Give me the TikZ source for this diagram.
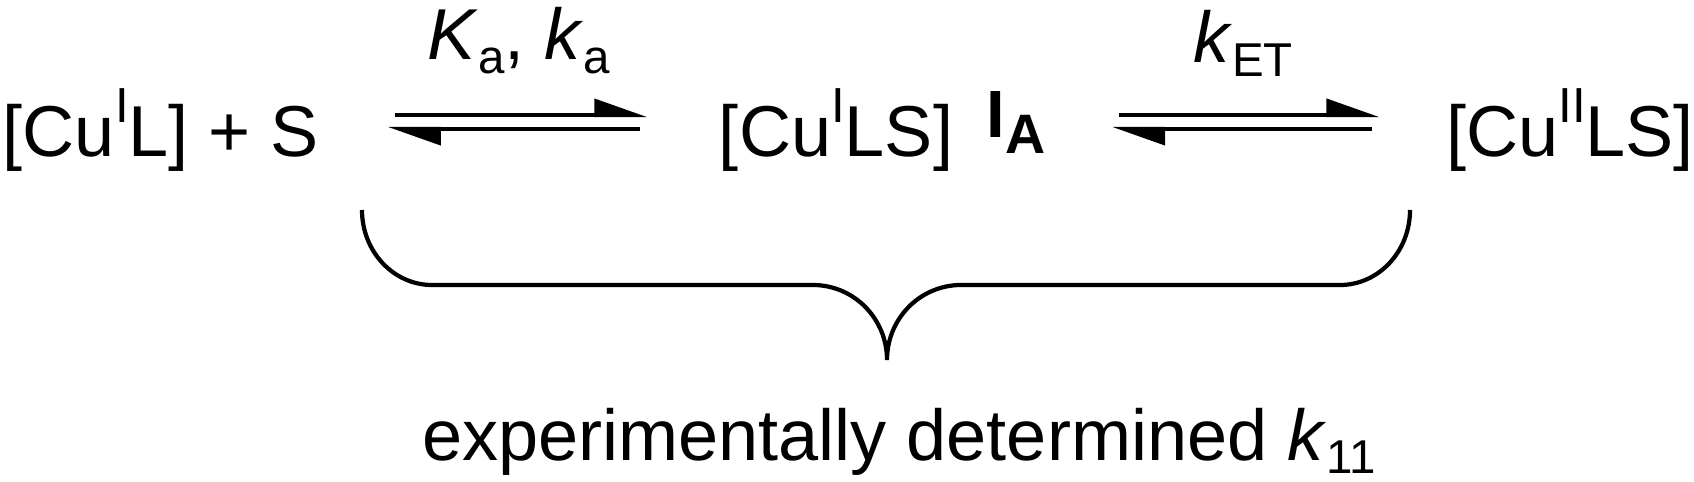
\documentclass[tikz,border=0pt]{standalone}
\usepackage{fontspec}
\setmainfont{Liberation Sans}
\usetikzlibrary{arrows.meta}
\newcommand{\ox}[1]{\raisebox{0.34cm}{\fontsize{14}{15}\selectfont #1}}
\newcommand{\lo}[1]{\raisebox{-0.13cm}{\fontsize{13.5}{14}\selectfont #1}}
\tikzset{
  species/.style={inner sep=0pt, anchor=base, font=\fontsize{20.5}{24}\selectfont},
  eqarrow/.style={line width=1.15pt, -{Triangle[harpoon, length=0.47cm, width=0.32cm]}},
  bracepath/.style={line width=1.2pt}
}
\begin{document}
\begin{tikzpicture}[x=0.01cm, y=0.01cm]
  \useasboundingbox (0,0) rectangle (1694,-482);
  \node[species] (cul) at (161,-157) {[Cu\ox{I}L] + S};
  \node[species] (cuils) at (836,-157) {[Cu\ox{I}LS]};
  \node[species, anchor=base west, font=\fontsize{19}{22}\selectfont\bfseries] (ia) at (986,-138) {I\raisebox{-0.15cm}{\fontsize{15.8}{18}\selectfont A}};
  \node[species] (cuiils) at (1570,-157) {[Cu\ox{II}LS]};
  \node[species] (ka) at (519,-60) {\textit{K}\lo{a}, \textit{k}\lo{a}};
  \node[species] (ket) at (1243,-63) {\textit{k}\lo{ET}};
  \node[species] (k11) at (899,-460) {experimentally determined \textit{k}\lo{11}};
  \draw[eqarrow] ([shift={(75,42)}]cul.base east) -- ([shift={(-71,42)}]cuils.base west);
  \draw[eqarrow] ([shift={(-78,28)}]cuils.base west) -- ([shift={(68,28)}]cul.base east);
  \draw[eqarrow] ([shift={(73,23)}]ia.base east) -- ([shift={(-66,42)}]cuiils.base west);
  \draw[eqarrow] ([shift={(-73,28)}]cuiils.base west) -- ([shift={(66,9)}]ia.base east);
  % brace
  \draw[bracepath] (362,-210) arc[start angle=180, end angle=270, x radius=70, y radius=75]
    -- (813,-285) arc[start angle=90, end angle=0, x radius=74, y radius=75]
    arc[start angle=180, end angle=90, x radius=74, y radius=75]
    -- (1340,-285) arc[start angle=270, end angle=360, x radius=70, y radius=75];
\end{tikzpicture}
\end{document}
